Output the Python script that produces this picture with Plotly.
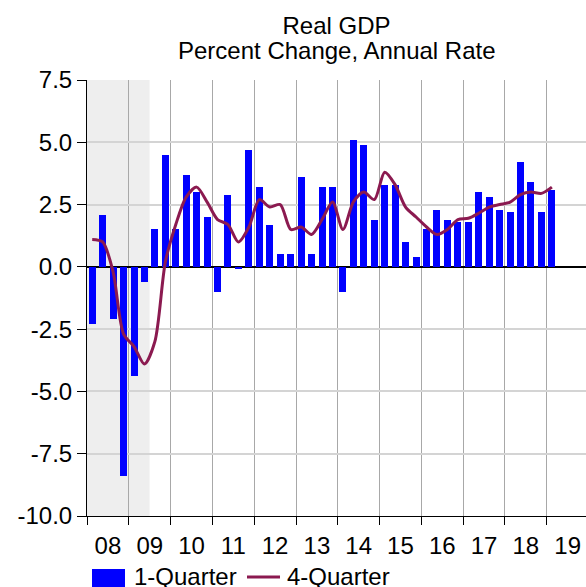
import pandas as pd
import plotly.graph_objects as go

quarters = [f"{y}Q{q}" for y in range(2008, 2020) for q in range(1, 5)][:45]

one_quarter = [-2.3, 2.1, -2.1, -8.4,
               -4.4, -0.6, 1.5, 4.5,
               1.5, 3.7, 3.0, 2.0,
               -1.0, 2.9, -0.1, 4.7,
               3.2, 1.7, 0.5, 0.5,
               3.6, 0.5, 3.2, 3.2,
               -1.0, 5.1, 4.9, 1.9,
               3.3, 3.3, 1.0, 0.4,
               1.5, 2.3, 1.9, 1.8,
               1.8, 3.0, 2.8, 2.3,
               2.2, 4.2, 3.4, 2.2,
               3.1]

four_quarter = [1.1, 1.0, -0.2, -2.7,
                -3.2, -3.9, -3.0, 0.2,
                1.7, 2.8, 3.2, 2.6,
                1.9, 1.7, 1.0, 1.6,
                2.7, 2.4, 2.5, 1.5,
                1.6, 1.3, 1.9, 2.6,
                1.5, 2.6, 3.0, 2.7,
                3.8, 3.3, 2.4, 2.0,
                1.6, 1.3, 1.5, 1.9,
                1.95, 2.15, 2.4, 2.5,
                2.6, 2.9, 3.0, 2.95,
                3.2]

y_ticks = [-10.0, -7.5, -5.0, -2.5, 0.0, 2.5, 5.0, 7.5]
y_tick_text = ["-10.0", "-7.5", "-5.0", "-2.5", "0.0", "2.5", "5.0", "7.5"]

title_lines = ["Real GDP", "Percent Change, Annual Rate"]
series_names = ["1-Quarter", "4-Quarter"]
recession = ("2008-01-01", "2009-07-01")

per = pd.PeriodIndex(quarters, freq="Q")
x = per.start_time + (per.end_time - per.start_time) / 2

FONT = "Liberation Sans, Arial, sans-serif"
FS = 24
BAR_COLOR = "#0000ff"
LINE_COLOR = "#8b1a50"

fig = go.Figure()
fig.add_trace(go.Bar(x=x, y=one_quarter, name=series_names[0],
                     marker=dict(color=BAR_COLOR, line=dict(width=0)),
                     width=61 * 86400000, showlegend=False))
fig.add_trace(go.Scatter(x=x, y=four_quarter, name=series_names[1], mode="lines",
                         line=dict(color=LINE_COLOR, width=3, shape="spline", smoothing=0.8),
                         showlegend=False))

fig.add_shape(type="rect", xref="x", yref="paper", x0=recession[0], x1=recession[1],
              y0=0, y1=1, fillcolor="#eeeeee", line=dict(width=0), layer="below")

# helpers: pixel -> paper coordinates (plot area: 87..586 px wide, 80..516 px tall)
W, H, L, T = 499.0, 436.0, 87.0, 80.0
def px(xp):
    return (xp - L) / W
def py(yp):
    return (T + H - yp) / H

# second title line
fig.add_annotation(xref="paper", yref="paper", x=0.5, y=py(50), text=title_lines[1],
                   showarrow=False, xanchor="center", yanchor="middle", font=dict(size=FS))

# legend
fig.add_shape(type="rect", xref="paper", yref="paper",
              x0=px(92), x1=px(125), y0=py(590), y1=py(569),
              fillcolor=BAR_COLOR, line=dict(width=0))
fig.add_shape(type="line", xref="paper", yref="paper",
              x0=px(247), x1=px(280), y0=py(577), y1=py(577),
              line=dict(color=LINE_COLOR, width=3))
fig.add_annotation(xref="paper", yref="paper", x=px(132), y=py(576), text=series_names[0],
                   showarrow=False, xanchor="left", yanchor="middle", font=dict(size=FS))
fig.add_annotation(xref="paper", yref="paper", x=px(285), y=py(576), text=series_names[1],
                   showarrow=False, xanchor="left", yanchor="middle", font=dict(size=FS))

fig.update_layout(
    width=586, height=587,
    margin=dict(l=87, r=0, t=80, b=71),
    paper_bgcolor="white", plot_bgcolor="white",
    font=dict(family=FONT, size=FS, color="black"),
    title=dict(text=title_lines[0], xref="paper", x=0.5, xanchor="center",
               yref="container", y=1 - 26 / 587, yanchor="middle",
               font=dict(size=FS, color="black")),
    showlegend=False,
    bargap=0,
)
fig.update_xaxes(type="date", range=["2008-01-01", "2019-12-10"], automargin=False,
                 dtick="M12", tick0="2008-01-01", tickformat="%y", ticklabelmode="period",
                 showgrid=True, gridcolor="#a8a8a8", gridwidth=1,
                 ticks="outside", ticklen=8, tickcolor="black",
                 showline=True, linecolor="black", linewidth=1,
                 tickfont=dict(size=FS))
fig.update_yaxes(range=[-10, 7.5], automargin=False,
                 tickmode="array", tickvals=y_ticks, ticktext=y_tick_text,
                 showgrid=True, gridcolor="#d4d4d4", gridwidth=2,
                 zeroline=True, zerolinecolor="black", zerolinewidth=1.5,
                 ticks="outside", ticklen=9, tickcolor="black",
                 showline=True, linecolor="black", linewidth=1,
                 tickfont=dict(size=FS))

fig.write_html("out.html", config={"displayModeBar": False},
               post_script="document.body.style.margin='0';document.body.style.overflow='hidden';")
